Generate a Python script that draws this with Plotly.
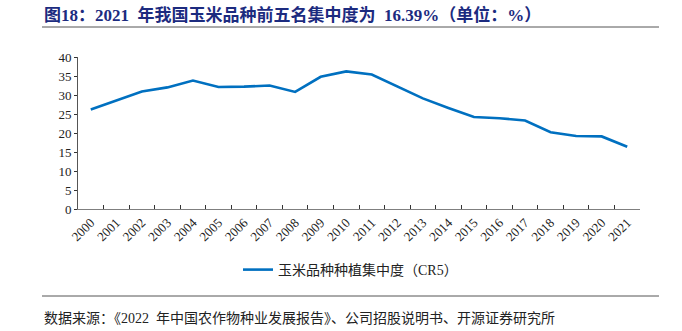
import plotly.graph_objects as go

years = [str(y) for y in range(2000, 2022)]
cr5 = [26.2, 28.6, 30.9, 32.0, 33.8, 32.1, 32.2, 32.5, 30.8, 34.8, 36.2, 35.4,
       32.2, 29.1, 26.6, 24.2, 23.9, 23.3, 20.2, 19.2, 19.1, 16.39]

series_name = "玉米品种种植集中度（CR5）"
title_text = "<b>图18：2021  年我国玉米品种前五名集中度为  16.39%（单位：%）</b>"
source_text = "数据来源：《2022  年中国农作物种业发展报告》、公司招股说明书、开源证券研究所"

W, H = 682, 331
L, R, T, B = 78, 640, 57, 209

def fx(px):
    return (px - L) / (R - L)

def fy(py):
    return (B - py) / (B - T)

FONT = "Liberation Serif, Times New Roman, Noto Sans CJK SC, serif"

fig = go.Figure()
fig.add_trace(go.Scatter(
    x=years, y=cr5, mode="lines", name=series_name,
    line=dict(color="#0070C0", width=2.6),
))

fig.update_layout(
    width=W, height=H,
    margin=dict(l=L, r=W - R, t=T, b=H - B, pad=0),
    paper_bgcolor="white", plot_bgcolor="white",
    font=dict(family=FONT, size=13, color="#222222"),
    showlegend=True,
    legend=dict(
        orientation="h", x=fx(238), xanchor="left", y=fy(270), yanchor="middle",
        font=dict(family=FONT, size=14, color="#222222"),
        bgcolor="rgba(0,0,0,0)",
    ),
    xaxis=dict(
        type="category", tickangle=-45, tickson="boundaries",
        ticks="inside", ticklen=4, tickcolor="#333333",
        showline=True, linecolor="#7f7f7f", linewidth=1,
        showgrid=False, zeroline=False,
        tickfont=dict(family=FONT, size=13, color="#222222"),
        range=[-0.5, 21.5],
    ),
    yaxis=dict(
        range=[0, 40], dtick=5, ticks="outside", ticklen=3, tickcolor="#333333",
        showline=True, linecolor="#555555", linewidth=1,
        showgrid=False, zeroline=False,
        tickfont=dict(family=FONT, size=13, color="#222222"),
    ),
)

fig.add_annotation(
    text=title_text, xref="paper", yref="paper", x=fx(42), y=fy(15),
    xanchor="left", yanchor="middle", showarrow=False,
    font=dict(family=FONT, size=17, color="#1C2B7F"),
)
fig.add_annotation(
    text=source_text, xref="paper", yref="paper", x=fx(42), y=fy(318),
    xanchor="left", yanchor="middle", showarrow=False,
    font=dict(family=FONT, size=14, color="#222222"),
)
for py in (27, 296):
    fig.add_shape(type="line", xref="paper", yref="paper",
                  x0=fx(42), x1=fx(659), y0=fy(py), y1=fy(py),
                  line=dict(color="#555555", width=1))

fig.write_html("out.html")
